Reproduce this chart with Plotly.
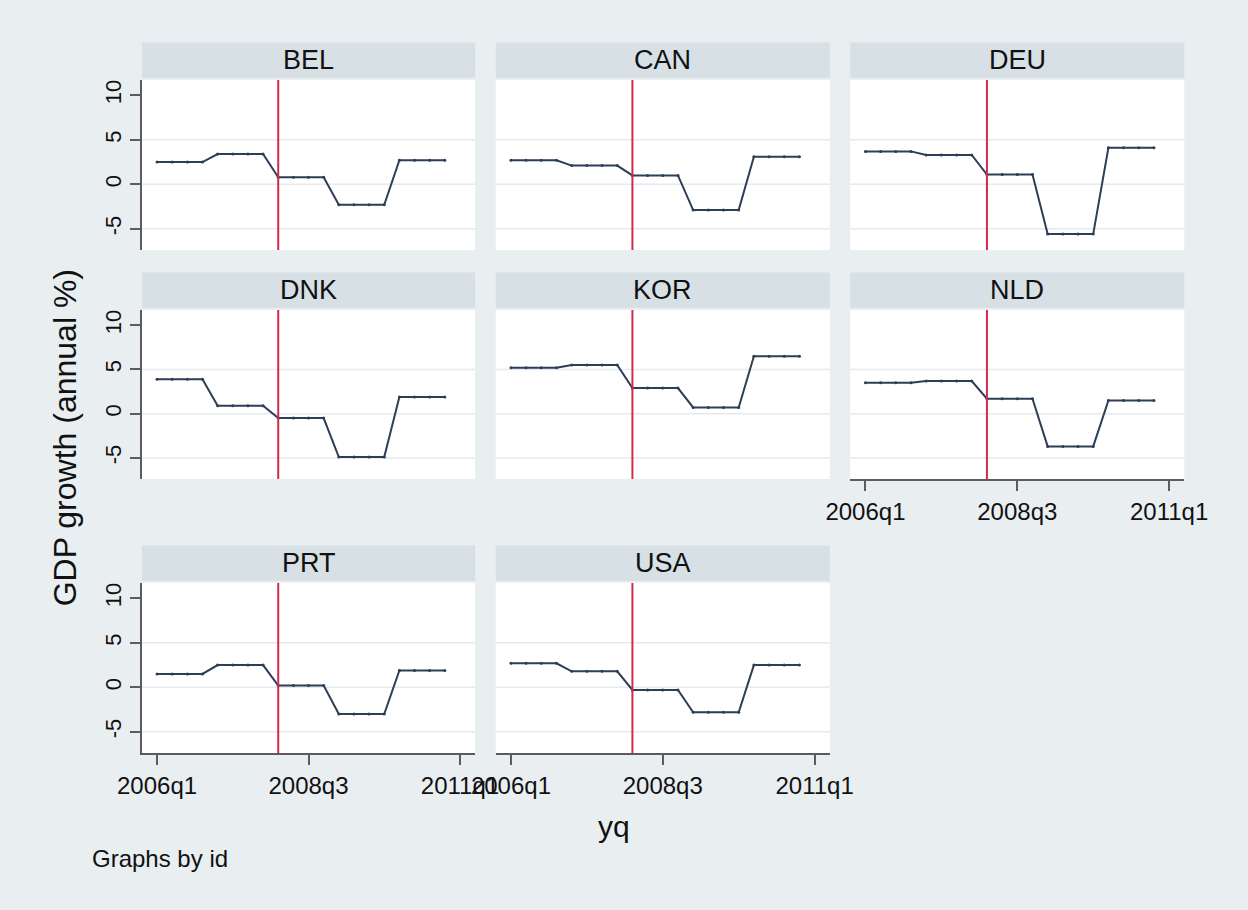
import plotly.graph_objects as go

# Annual GDP growth (%) by country, 2006-2010
years = [2006, 2007, 2008, 2009, 2010]
countries = ["BEL", "CAN", "DEU", "DNK", "KOR", "NLD", "PRT", "USA"]
gdp_BEL = [2.5, 3.4, 0.8, -2.3, 2.7]
gdp_CAN = [2.7, 2.1, 1.0, -2.9, 3.1]
gdp_DEU = [3.7, 3.3, 1.1, -5.6, 4.1]
gdp_DNK = [3.9, 0.9, -0.5, -4.9, 1.9]
gdp_KOR = [5.2, 5.5, 2.9, 0.7, 6.5]
gdp_NLD = [3.5, 3.7, 1.7, -3.7, 1.5]
gdp_PRT = [1.5, 2.5, 0.2, -3.0, 1.9]
gdp_USA = [2.7, 1.8, -0.3, -2.8, 2.5]
series = {"BEL": gdp_BEL, "CAN": gdp_CAN, "DEU": gdp_DEU, "DNK": gdp_DNK,
          "KOR": gdp_KOR, "NLD": gdp_NLD, "PRT": gdp_PRT, "USA": gdp_USA}

x_ticks = ["2006q1", "2008q3", "2011q1"]
y_ticks = [-5, 0, 5, 10]
grid_vals = [-5, 0, 5]
event_quarter = "2008q1"


def tq(label):
    """Stata-style quarterly date number (1960q1 = 0)."""
    y, q = label.split("q")
    return (int(y) - 1960) * 4 + int(q) - 1


# quarterly observations carry the annual value
quarters = [f"{y}q{q}" for y in years for q in range(1, 5)]
qnum = [tq(s) for s in quarters]

W, H = 1248, 910
BG = "#e9eef1"
STRIP = "#d7e0e5"
GRID = "#e4eaee"
LINE = "#2d3e57"
RED = "#d02a4c"
AX = "#5c5c5c"
FONT = "Liberation Sans, Arial, Helvetica, sans-serif"

col_px = [(121.7, 468.5), (490.0, 837.7), (859.0, 1206.7)]
row_px = [(80.0, 250.0), (310.0, 479.0), (583.0, 753.0)]
strip_h = 35.5

fig = go.Figure()
shapes = []
annotations = []
layout = {}

n = len(countries)
for i, c in enumerate(countries):
    r, k = divmod(i, 3)
    idx = i + 1
    xa = f"x{idx}" if idx > 1 else "x"
    ya = f"y{idx}" if idx > 1 else "y"
    x0, x1 = col_px[k]
    y0, y1 = row_px[r]
    xdom = [x0 / W, x1 / W]
    ydom = [1 - y1 / H, 1 - y0 / H]
    bottom = (i + 3) >= n
    left = k == 0

    vals = series[c]
    yq = [v for v in vals for _ in range(4)]
    fig.add_trace(go.Scatter(
        x=qnum, y=yq, mode="lines+markers",
        line=dict(color=LINE, width=2),
        marker=dict(color=LINE, size=3),
        xaxis=xa, yaxis=ya, showlegend=False, hoverinfo="x+y"))

    layout["xaxis" + ("" if idx == 1 else str(idx))] = dict(
        domain=xdom, anchor=ya, range=[tq("2006q1") - 1, tq("2011q1") + 1],
        tickmode="array", tickvals=[tq(s) for s in x_ticks], ticktext=x_ticks,
        showticklabels=bottom, ticks="outside" if bottom else "",
        ticklen=10, tickwidth=1.5, tickcolor=AX,
        showline=bottom, linecolor=AX, linewidth=1.5,
        showgrid=False, zeroline=False,
        tickfont=dict(family=FONT, size=24, color="#111"))
    layout["yaxis" + ("" if idx == 1 else str(idx))] = dict(
        domain=ydom, anchor=xa, range=[-7.39, 11.73],
        tickmode="array", tickvals=y_ticks, ticktext=[str(v) for v in y_ticks],
        showticklabels=left, ticks="outside" if left else "",
        ticklen=10, tickwidth=1.5, tickcolor=AX, tickangle=-90,
        showline=left, linecolor=AX, linewidth=1.5,
        showgrid=False, zeroline=False,
        tickfont=dict(family=FONT, size=22, color="#111"))

    for g in grid_vals:
        shapes.append(dict(type="line", xref=f"{xa} domain", yref=ya,
                           x0=0, x1=1, y0=g, y1=g, layer="below",
                           line=dict(color=GRID, width=1.5)))
    shapes.append(dict(type="line", xref=xa, yref=f"{ya} domain",
                       x0=tq(event_quarter), x1=tq(event_quarter), y0=0, y1=1,
                       line=dict(color=RED, width=2)))

    # panel header strip
    s_top = y0 - 2 - strip_h
    shapes.append(dict(type="rect", xref="paper", yref="paper",
                       x0=xdom[0], x1=xdom[1],
                       y0=1 - (y0 - 2) / H, y1=1 - s_top / H,
                       fillcolor=STRIP, line=dict(width=0), layer="below"))
    annotations.append(dict(text=c, xref="paper", yref="paper",
                            x=(xdom[0] + xdom[1]) / 2,
                            y=1 - (s_top + strip_h / 2) / H,
                            xanchor="center", yanchor="middle", showarrow=False,
                            font=dict(family=FONT, size=27, color="#111")))

annotations.append(dict(text="GDP growth (annual %)", xref="paper", yref="paper",
                        x=42 / W, y=1 - 438 / H, textangle=-90,
                        xanchor="center", yanchor="middle", showarrow=False,
                        font=dict(family=FONT, size=32, color="#111")))
annotations.append(dict(text="yq", xref="paper", yref="paper",
                        x=613 / W, y=1 - 826 / H,
                        xanchor="center", yanchor="middle", showarrow=False,
                        font=dict(family=FONT, size=30, color="#111")))
annotations.append(dict(text="Graphs by id", xref="paper", yref="paper",
                        x=68 / W, y=1 - 858 / H,
                        xanchor="left", yanchor="middle", showarrow=False,
                        font=dict(family=FONT, size=24, color="#111")))

fig.update_layout(
    width=W, height=H, margin=dict(l=0, r=0, t=0, b=0),
    paper_bgcolor=BG, plot_bgcolor="white",
    shapes=shapes, annotations=annotations, **layout)

fig.write_html("out.html")
